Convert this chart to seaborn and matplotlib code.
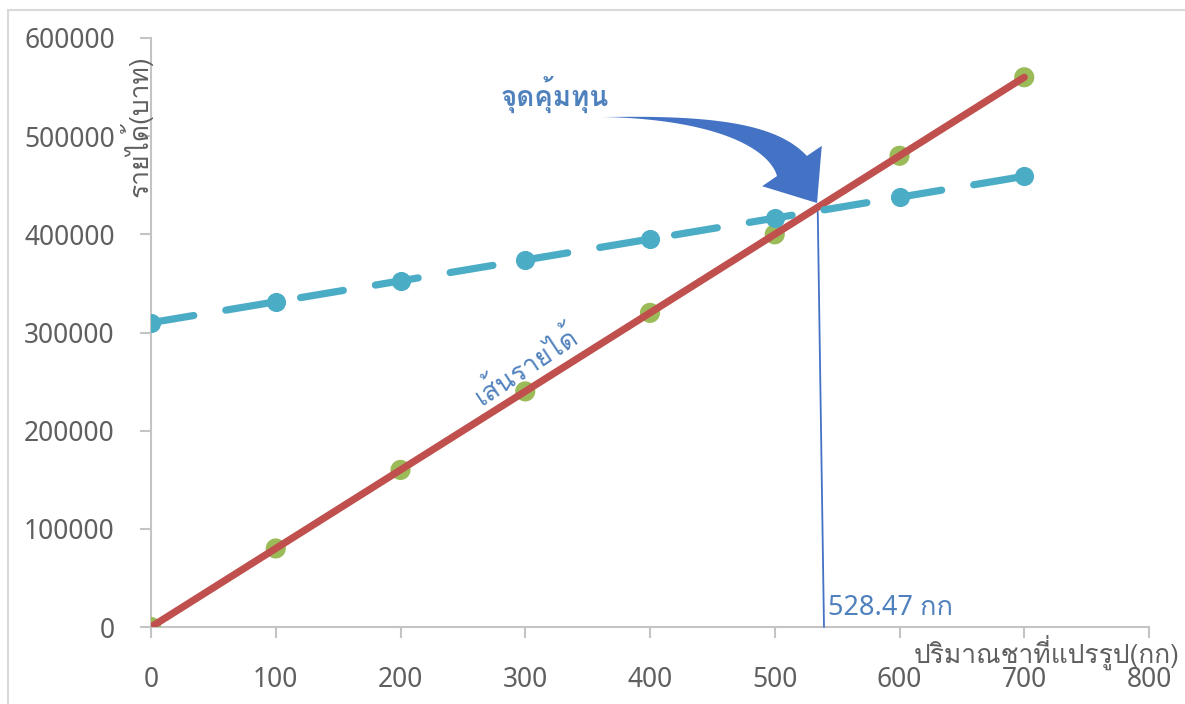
import matplotlib
matplotlib.use("Agg")
import matplotlib.pyplot as plt
from matplotlib import font_manager
from matplotlib.ft2font import FT2Font
from matplotlib.patches import Rectangle, Polygon
import numpy as np
import pandas as pd
import seaborn as sns

# Quantity processed (kg)
quantity = [0, 100, 200, 300, 400, 500, 600, 700]
# Revenue (baht)
revenue = [0, 80000, 160000, 240000, 320000, 400000, 480000, 560000]
# Total cost (baht)
total_cost = [310000, 331300, 352600, 373900, 395200, 416500, 437800, 459100]
# Break-even quantity
break_even_qty = 528.47

x_ticks = [0, 100, 200, 300, 400, 500, 600, 700, 800]
y_ticks = [0, 100000, 200000, 300000, 400000, 500000, 600000]

sns.set_theme(style="white")


def thai_families():
    names = []
    for f in font_manager.fontManager.ttflist:
        try:
            cmap = FT2Font(f.fname).get_charmap()
        except Exception:
            continue
        if 0x0E01 in cmap and 0x0E49 in cmap and f.name not in names:
            names.append(f.name)
    return names


thai = thai_families()
base_family = ["Noto Sans"] + thai + ["DejaVu Sans"]
thai_family = thai + ["Noto Sans", "DejaVu Sans"]
plt.rcParams["font.family"] = base_family

GRAY_TEXT = "#5f5f5f"
AXIS_GRAY = "#c4c4c4"
RED = "#c0504d"
GREEN = "#9bbb59"
CYAN = "#4bacc6"
BLUE_TEXT = "#4f81bd"
ARROW_BLUE = "#4472c4"

df = pd.DataFrame({"qty": quantity, "revenue": revenue, "cost": total_cost})

fig = plt.figure(figsize=(11.85, 7.04), dpi=100)
ax = fig.add_axes([151 / 1185, 77 / 704, (1149 - 151) / 1185, (627 - 38) / 704])

# Revenue: green points underneath a thick red line
sns.scatterplot(data=df, x="qty", y="revenue", ax=ax, color=GREEN, s=210,
                edgecolor="none", zorder=3)
sns.lineplot(data=df, x="qty", y="revenue", ax=ax, color=RED, linewidth=5.2,
             solid_capstyle="round", zorder=4)

# Total cost: dashed cyan line with round markers
sns.lineplot(data=df, x="qty", y="cost", ax=ax, color=CYAN, linewidth=5.2,
             marker="o", markersize=13, markeredgecolor=CYAN,
             dashes=False, zorder=5)
cost_line = ax.get_lines()[-1]
cost_line.set_dashes((6, 4.5))
cost_line.set_dash_capstyle("round")

ax.set_xlim(0, 800)
ax.set_ylim(0, 600000)
ax.set_xticks(x_ticks)
ax.set_yticks(y_ticks)
ax.set_xticklabels([str(v) for v in x_ticks])
ax.set_yticklabels([str(v) for v in y_ticks])
ax.set_xlabel("")
ax.set_ylabel("")

for side in ("top", "right"):
    ax.spines[side].set_visible(False)
for side in ("left", "bottom"):
    ax.spines[side].set_color(AXIS_GRAY)
    ax.spines[side].set_linewidth(1.5)

ax.tick_params(axis="both", which="major", direction="out", length=8,
               width=1.5, color=AXIS_GRAY, labelcolor=GRAY_TEXT,
               labelsize=19, bottom=True, left=True)
ax.tick_params(axis="x", pad=20)
ax.tick_params(axis="y", pad=18)
for lbl in ax.get_xticklabels() + ax.get_yticklabels():
    lbl.set_fontweight("light")

# Break-even marker line and label
be_revenue = 800 * break_even_qty
ax.plot([break_even_qty + 6, break_even_qty + 11], [be_revenue, 0],
        color=ARROW_BLUE, linewidth=1.3, zorder=6, clip_on=False)
ax.text(break_even_qty + 14, 19000, f"{break_even_qty:.2f} กก",
        color=BLUE_TEXT, fontsize=19.5, ha="left", va="center",
        family=base_family, fontweight="light")

# Curved block arrow pointing at the break-even point:
# a tapered quadratic Bezier body followed by a triangular head
fig.canvas.draw()
to_px = ax.transData.transform
tail, ctrl, base, tip = to_px([(361.5, 519500), (487.4, 519500),
                               (513.8, 469600), (533.9, 431900)])
t = np.linspace(0, 1, 60)[:, None]
centre = (1 - t) ** 2 * tail + 2 * (1 - t) * t * ctrl + t ** 2 * base
deriv = 2 * (1 - t) * (ctrl - tail) + 2 * t * (base - ctrl)
normal = np.column_stack([-deriv[:, 1], deriv[:, 0]])
normal /= np.linalg.norm(normal, axis=1, keepdims=True)
half_w = 18 * t[:, 0] ** 1.4
upper = centre + normal * half_w[:, None]
lower = centre - normal * half_w[:, None]
head_dir = (tip - base) / np.linalg.norm(tip - base)
head_n = np.array([-head_dir[1], head_dir[0]])
wing_a = base + head_n * 36
wing_b = base - head_n * 36
outline = np.vstack([upper, wing_a, tip, wing_b, lower[::-1]])
fig.patches.append(Polygon(outline, closed=True, transform=None,
                           facecolor=ARROW_BLUE, edgecolor="none",
                           zorder=7, figure=fig))

ax.text(323.8, 541900, "จุดคุ้มทุน", color=BLUE_TEXT, fontsize=20,
        fontweight="bold", ha="center", va="center", family=thai_family)

# Label along the revenue line
ax.text(300.6, 266000, "เส้นรายได้", color=BLUE_TEXT, fontsize=19,
        rotation=33.5, rotation_mode="anchor", ha="center", va="center",
        family=thai_family)

# Axis titles
fig.text(136 / 1185, 1 - 126 / 704, "รายได้(บาท)", rotation=90,
         ha="center", va="center", color=GRAY_TEXT, fontsize=19,
         family=thai_family)
fig.text(1180 / 1185, 1 - 652 / 704, "ปริมาณชาที่แปรรูป(กก)",
         ha="right", va="center", color=GRAY_TEXT, fontsize=19,
         family=thai_family)

# Chart-area border
fig.patches.append(Rectangle((8 / 1185, -0.05), 1.2, 1 - 10 / 704 + 0.05,
                             transform=fig.transFigure, fill=False,
                             edgecolor="#d9d9d9", linewidth=1.5))

fig.savefig("out.png", dpi=100, facecolor="white")
